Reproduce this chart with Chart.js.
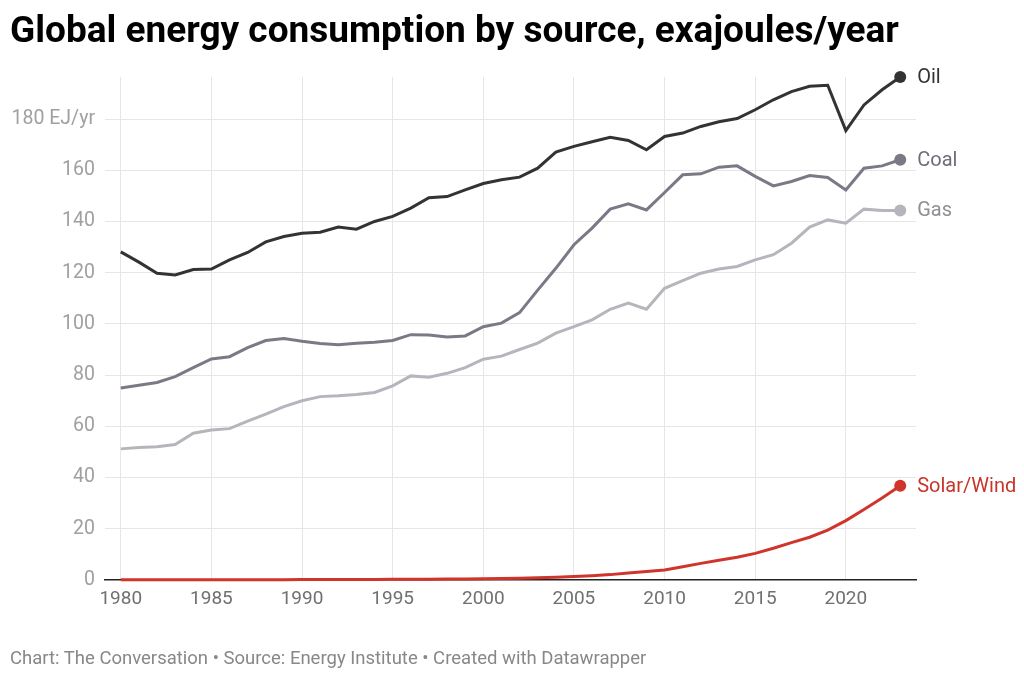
<!DOCTYPE html>
<html>
<head>
<meta charset="utf-8">
<script src="https://cdn.jsdelivr.net/npm/chart.js@4"></script>
<style>
  html, body { margin: 0; padding: 0; background: #fff; }
  body { width: 1024px; height: 678px; position: relative; overflow: hidden; font-family: Roboto, sans-serif; }
  #title { position: absolute; left: 10px; top: 11px; font-size: 37px; line-height: 37px; font-weight: 700; color: #000; white-space: nowrap; }
  #footer { position: absolute; left: 10px; top: 649px; font-size: 18.5px; line-height: 18px; color: #888; white-space: nowrap; }
  #wrap { position: absolute; left: 0; top: 0; width: 1024px; height: 678px; }
</style>
</head>
<body>
<div id="wrap"><canvas id="myChart"></canvas></div>
<div id="title">Global energy consumption by source, exajoules/year</div>
<div id="footer">Chart: The Conversation • Source: Energy Institute • Created with Datawrapper</div>
<script>
const years = [
  1980, 1981, 1982, 1983, 1984, 1985, 1986, 1987, 1988, 1989,
  1990, 1991, 1992, 1993, 1994, 1995, 1996, 1997, 1998, 1999,
  2000, 2001, 2002, 2003, 2004, 2005, 2006, 2007, 2008, 2009,
  2010, 2011, 2012, 2013, 2014, 2015, 2016, 2017, 2018, 2019,
  2020, 2021, 2022, 2023,
];
const oil = [
  128.1, 124.1, 119.8, 119.1, 121.2, 121.4, 125.0, 127.9, 132.0, 134.1,
  135.4, 135.8, 137.8, 137.0, 140.0, 142.0, 145.2, 149.3, 149.7, 152.3,
  154.8, 156.3, 157.3, 160.8, 167.1, 169.3, 171.1, 172.9, 171.6, 168.0,
  173.2, 174.5, 177.1, 178.9, 180.2, 183.6, 187.5, 190.7, 192.8, 193.2,
  175.5, 185.5, 191.4, 196.4,
];
const coal = [
  75.0, 76.0, 77.1, 79.4, 82.9, 86.3, 87.2, 90.7, 93.5, 94.3,
  93.2, 92.3, 91.9, 92.4, 92.8, 93.5, 95.8, 95.7, 94.9, 95.3,
  98.9, 100.3, 104.4, 113.2, 121.7, 130.9, 137.4, 144.8, 146.9, 144.5,
  151.3, 158.2, 158.6, 161.2, 161.7, 157.6, 153.9, 155.6, 157.9, 157.2,
  152.3, 160.8, 161.7, 164.1,
];
const gas = [
  51.2, 51.7, 52.0, 52.9, 57.3, 58.6, 59.1, 62.0, 64.8, 67.7,
  70.0, 71.6, 71.9, 72.4, 73.2, 75.8, 79.7, 79.2, 80.7, 82.9,
  86.2, 87.4, 90.0, 92.5, 96.4, 98.9, 101.6, 105.7, 108.1, 105.7,
  113.9, 116.9, 119.8, 121.4, 122.4, 125.0, 127.0, 131.5, 137.8, 140.6,
  139.3, 144.8, 144.3, 144.3,
];
const solarWind = [
  0.1, 0.1, 0.1, 0.1, 0.1, 0.1, 0.1, 0.1, 0.1, 0.1,
  0.2, 0.2, 0.2, 0.2, 0.2, 0.3, 0.3, 0.3, 0.4, 0.4,
  0.5, 0.6, 0.7, 0.9, 1.1, 1.4, 1.7, 2.1, 2.7, 3.3,
  3.9, 5.2, 6.5, 7.7, 8.9, 10.4, 12.4, 14.6, 16.7, 19.5,
  23.2, 27.5, 32.0, 36.8,
];
const seriesNames = ["Oil", "Coal", "Gas", "Solar/Wind"];
const lineColors = ["#333333", "#7b7985", "#b6b5bc", "#d0352b"];
const labelColors = ["#333333", "#6f6d79", "#8f8e95", "#c8352b"];
const xTicks = [1980, 1985, 1990, 1995, 2000, 2005, 2010, 2015, 2020];
const yTicks = [0, 20, 40, 60, 80, 100, 120, 140, 160, 180];

const allSeries = [oil, coal, gas, solarWind];

// names written right of each line's last point
const endLabels = {
  id: "endLabels",
  afterDatasetsDraw(chart) {
    const c = chart.ctx;
    c.save();
    c.font = "20px Roboto";
    c.textBaseline = "middle";
    c.textAlign = "left";
    chart.data.datasets.forEach((ds, i) => {
      const meta = chart.getDatasetMeta(i);
      const pt = meta.data[meta.data.length - 1];
      c.fillStyle = labelColors[i];
      c.fillText(seriesNames[i], pt.x + 17, pt.y + 1);
    });
    c.restore();
  },
};

const lastIdx = years.length - 1;

chart = new Chart(document.getElementById("myChart").getContext("2d"), {
  type: "line",
  data: {
    datasets: allSeries.map((vals, i) => ({
      label: seriesNames[i],
      data: years.map((yr, j) => ({ x: yr, y: vals[j] })),
      borderColor: lineColors[i],
      backgroundColor: lineColors[i],
      borderWidth: 3,
      tension: 0,
      clip: false,
      pointRadius: (ctx) => (ctx.dataIndex === lastIdx ? 6 : 0),
      pointHoverRadius: 0,
      pointBorderWidth: 0,
    })),
  },
  options: {
    responsive: true,
    maintainAspectRatio: false,
    animation: false,
    layout: {
      padding: { top: 77, right: 108, left: 0, bottom: 58 },
    },
    plugins: {
      legend: { display: false },
      tooltip: { enabled: false },
    },
    scales: {
      x: {
        type: "linear",
        min: 1979.13,
        max: 2023.87,
        afterBuildTicks: (axis) => {
          axis.ticks = xTicks.map((v) => ({ value: v }));
        },
        afterFit: (axis) => {
          axis.height = 40;
        },
        grid: {
          color: "#e6e6e6",
          lineWidth: 1,
          drawTicks: false,
        },
        border: { display: true, color: "#222", width: 1.5 },
        ticks: {
          padding: 8,
          color: "#707070",
          font: { family: "Roboto", size: 19 },
          maxRotation: 0,
          callback: (v) => String(v),
        },
      },
      y: {
        min: 0,
        max: 196.4,
        afterBuildTicks: (axis) => {
          axis.ticks = yTicks.map((v) => ({ value: v }));
        },
        afterFit: (axis) => {
          axis.width = 105;
        },
        grid: {
          color: (ctx) => (ctx.tick && ctx.tick.value === 0 ? "rgba(0,0,0,0)" : "#e6e6e6"),
          lineWidth: 1,
          drawTicks: false,
        },
        border: { display: false },
        ticks: {
          padding: 10,
          color: "#a0a0a0",
          font: { family: "Roboto", size: 19.5 },
          callback: (v) => (v === 180 ? "180 EJ/yr" : v),
        },
      },
    },
  },
  plugins: [endLabels],
});
</script>
</body>
</html>
